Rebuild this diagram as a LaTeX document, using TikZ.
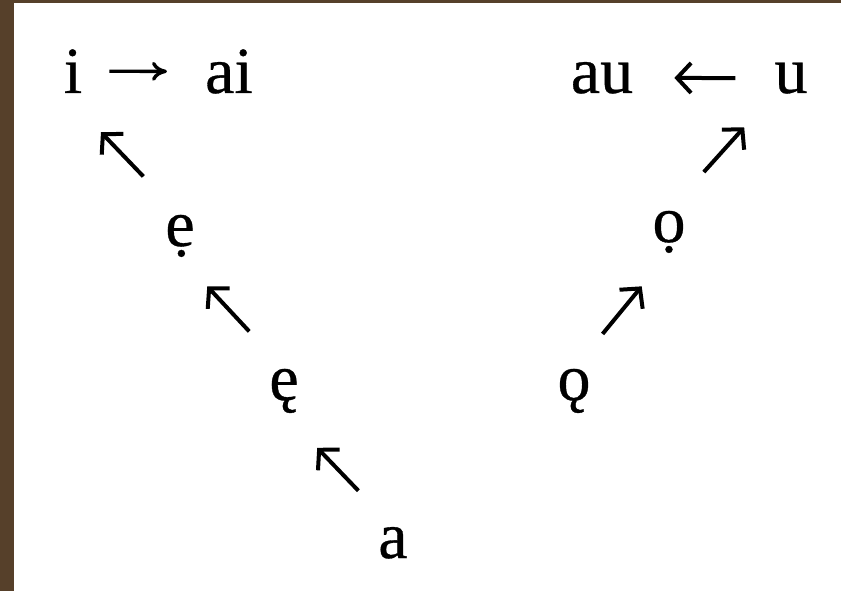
\documentclass[tikz,border=0pt]{standalone}
\usepackage{fontspec}
\newfontfamily\vowfont{Liberation Serif}[FakeBold=0.5]
\usetikzlibrary{arrows.meta}
\definecolor{frame}{RGB}{86,64,42}
\tikzset{
  vow/.style={inner sep=0pt, anchor=base, font=\vowfont\fontsize{66}{70}\selectfont},
  arr/.style={-{Straight Barb[length=14pt,width=30pt]}, line width=4pt},
  harr/.style={-{Computer Modern Rightarrow[length=15pt,width=19pt]}, line width=3.4pt},
}
\begin{document}
\begin{tikzpicture}[x=1pt,y=-1pt]
  % scan frame
  \fill[frame] (0,0) rectangle (841,591);
  \fill[white] (14,3.5) rectangle (841,591);
  % vowels
  \node[vow] (i)  at (73,93)   {i};
  \node[vow] (ai) at (229,93)  {ai};
  \node[vow] (au) at (602,93)  {au};
  \node[vow] (u)  at (791,93)  {u};
  \node[vow] (e1) at (180,246) {ẹ};
  \node[vow] (o1) at (669,242) {ọ};
  \node[vow] (e2) at (284,400) {ę};
  \node[vow] (o2) at (574,400) {ǫ};
  \node[vow] (a)  at (393,558) {a};
  % shifts
  \draw[harr, shorten <=27pt, shorten >=38pt] (i.east) -- (ai.west);
  \draw[arr, shorten <=39pt, shorten >=41pt] (u.west) -- (au.east);
  \foreach \from/\to/\s/\e in {a.north/e2.south/50/48, e2.north/e1.south/51/40,
      e1.north/i.south west/53/54, o2.north/o1.south/45/43, o1.north/u.south west/52/45}
    \draw[arr, shorten <=\s pt, shorten >=\e pt] (\from) -- (\to);
\end{tikzpicture}
\end{document}
